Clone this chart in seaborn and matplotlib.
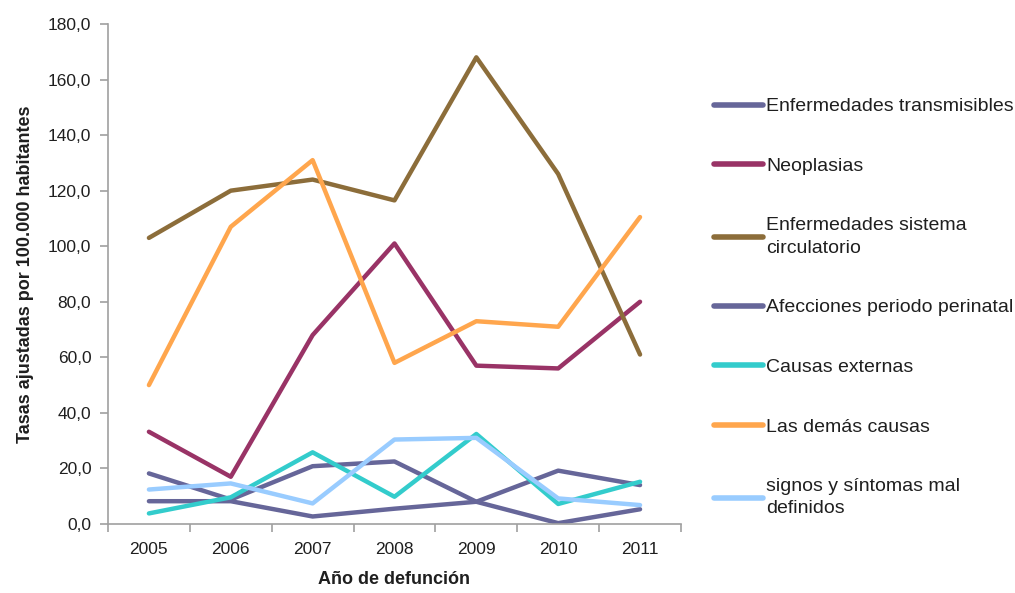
import pandas as pd
import seaborn as sns
import matplotlib.pyplot as plt
from matplotlib.ticker import FuncFormatter, FixedLocator

# Data
years = [2005, 2006, 2007, 2008, 2009, 2010, 2011]
transmisibles = [18.2, 8.8, 20.8, 22.5, 8.0, 0.3, 5.3]
neoplasias = [33.2, 17.0, 68.0, 101.0, 57.0, 56.0, 80.0]
circulatorio = [103.0, 120.0, 124.0, 116.5, 168.0, 126.0, 61.0]
perinatal = [8.2, 8.2, 2.7, 5.5, 8.0, 19.2, 14.0]
externas = [3.8, 9.6, 25.8, 9.8, 32.4, 7.2, 15.2]
demas = [50.0, 107.0, 131.0, 58.0, 73.0, 71.0, 110.5]
signos = [12.4, 14.6, 7.4, 30.4, 31.0, 9.2, 6.8]

series_names = [
    'Enfermedades transmisibles',
    'Neoplasias',
    'Enfermedades sistema\ncirculatorio',
    'Afecciones periodo perinatal',
    'Causas externas',
    'Las demás causas',
    'signos y síntomas mal\ndefinidos',
]
series_values = [transmisibles, neoplasias, circulatorio, perinatal, externas, demas, signos]
colors = ['#666699', '#993366', '#8C6D3A', '#666699', '#33CCCC', '#FFA64D', '#99CCFF']

rows = []
for name, vals in zip(series_names, series_values):
    for yr, v in zip(years, vals):
        rows.append({'year': yr, 'value': v, 'serie': name})
df = pd.DataFrame(rows)

sns.set_style('white')
plt.rcParams['font.family'] = ['Liberation Sans', 'DejaVu Sans']
text_color = '#1F1F1F'
axis_color = '#A0A0A0'

fig = plt.figure(figsize=(10.15, 5.93), dpi=100)
ax = fig.add_axes([0.1064, 0.1164, 0.5645, 0.8431])

sns.lineplot(data=df, x='year', y='value', hue='serie', hue_order=series_names,
             palette=colors, linewidth=3.2, ax=ax, legend=True,
             solid_capstyle='round', solid_joinstyle='round')

ax.set_xlim(2004.5, 2011.5)
ax.set_ylim(0, 180)
ax.set_yticks(range(0, 181, 20))
ax.yaxis.set_major_formatter(FuncFormatter(lambda v, p: f'{v:.1f}'.replace('.', ',')))
ax.set_xticks(years)
ax.set_xticklabels([str(y) for y in years])
ax.xaxis.set_minor_locator(FixedLocator([y + 0.5 for y in [2004] + years]))

ax.tick_params(axis='x', which='major', length=0, pad=13, labelsize=12.5, labelcolor=text_color)
ax.tick_params(axis='x', which='minor', length=6, width=1.2, color=axis_color, direction='out', bottom=True)
ax.tick_params(axis='y', length=6, width=1.2, color=axis_color, direction='out', left=True,
               labelsize=12.5, labelcolor=text_color, pad=6)

for side in ['top', 'right']:
    ax.spines[side].set_visible(False)
for side in ['left', 'bottom']:
    ax.spines[side].set_color(axis_color)
    ax.spines[side].set_linewidth(1.2)

ax.set_xlabel('Año de defunción', fontsize=13, fontweight='bold', color=text_color, labelpad=10)
ax.set_ylabel('Tasas ajustadas por 100.000 habitantes', fontsize=13, fontweight='bold',
              color=text_color, labelpad=10)

handles, labels = ax.get_legend_handles_labels()
ax.get_legend().remove()
leg = fig.legend(handles, labels, loc='upper left', bbox_to_anchor=(0.7034, 0.835),
                 frameon=False, fontsize=14, handlelength=2.5, handletextpad=0.2,
                 labelspacing=2.17, borderpad=0, borderaxespad=0)
for line in leg.get_lines():
    line.set_linewidth(4)
    line.set_solid_capstyle('round')
for t in leg.get_texts():
    t.set_color(text_color)
    t.set_linespacing(1.4)

fig.savefig('out.png', dpi=100)
